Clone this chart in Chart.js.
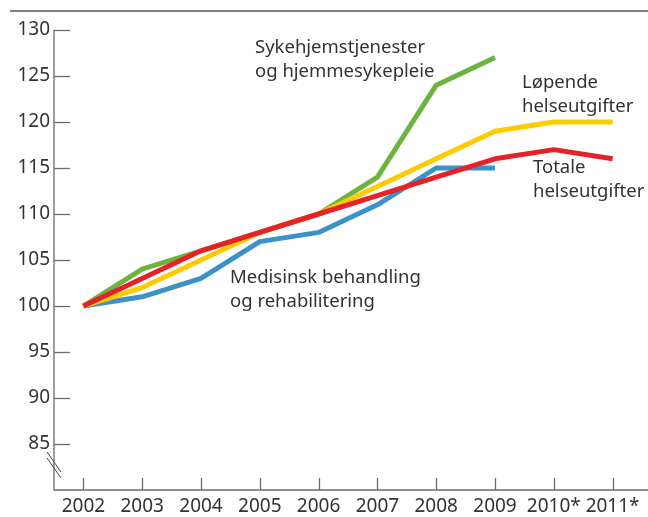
<!DOCTYPE html>
<html lang="no">
<head>
  <meta charset="UTF-8">
  <title>Helseutgifter indeks</title>
  <script src="https://cdn.jsdelivr.net/npm/chart.js"></script>
  <style>
    html, body { margin: 0; padding: 0; background: #fff; }
    #wrap { width: 648px; height: 517px; position: relative; }
  </style>
</head>
<body>
  <div id="wrap"><canvas id="myChart" width="648" height="517"></canvas></div>

  <script>
    // data, 2002 = 100
    const years = ['2002', '2003', '2004', '2005', '2006', '2007', '2008', '2009', '2010*', '2011*'];
    const sykehjem = [100, 104, 106, 108, 110, 114, 124, 127, null, null];
    const medisinsk = [100, 101, 103, 107, 108, 111, 115, 115, null, null];
    const lopende = [100, 102, 105, 108, 110, 113, 116, 119, 120, 120];
    const totale = [100, 103, 106, 108, 110, 112, 114, 116, 117, 116];

    // labels placed next to the lines
    const notes = [
      { text: ['Sykehjemstjenester', 'og hjemmesykepleie'], x: 255, y: 48 },
      { text: ['Løpende', 'helseutgifter'], x: 522, y: 83 },
      { text: ['Totale', 'helseutgifter'], x: 533, y: 168 },
      { text: ['Medisinsk behandling', 'og rehabilitering'], x: 230, y: 278 }
    ];

    const font = "'Noto Sans', 'Open Sans', sans-serif";
    const axisColor = '#6b6b6b';

    // inward ticks, axis lines, break mark and notes
    const decor = {
      id: 'decor',
      afterDraw(chart) {
        const c = chart.ctx;
        const xs = chart.scales.x, ys = chart.scales.y;
        const area = chart.chartArea;
        c.save();
        // top rule
        c.strokeStyle = '#555';
        c.lineWidth = 1.5;
        c.beginPath(); c.moveTo(10, 11); c.lineTo(648, 11); c.stroke();

        c.strokeStyle = axisColor;
        c.lineWidth = 1.3;
        c.beginPath();
        c.moveTo(area.left, ys.getPixelForValue(130));
        c.lineTo(area.left, area.bottom);
        c.lineTo(648, area.bottom);
        c.stroke();

        // y ticks pointing right
        for (let v = 85; v <= 130; v += 5) {
          const y = Math.round(ys.getPixelForValue(v)) + 0.5;
          c.beginPath(); c.moveTo(area.left, y); c.lineTo(area.left + 16, y); c.stroke();
        }
        // x ticks pointing up
        years.forEach((yr, i) => {
          const x = Math.round(xs.getPixelForValue(i)) + 0.5;
          c.beginPath(); c.moveTo(x, area.bottom); c.lineTo(x, area.bottom - 12); c.stroke();
        });

        // axis break
        const by = ys.getPixelForValue(82.5);
        c.strokeStyle = '#444';
        c.lineWidth = 1;
        [-3, 3].forEach(d => {
          c.beginPath();
          c.moveTo(area.left - 7, by - 12 + d);
          c.lineTo(area.left + 7, by + 8 + d);
          c.stroke();
        });

        // notes
        c.fillStyle = '#333';
        c.font = '18.5px ' + font;
        c.textBaseline = 'middle';
        notes.forEach(n => {
          n.text.forEach((t, k) => c.fillText(t, n.x, n.y + k * 24));
        });
        c.restore();
      }
    };

    const ctx = document.getElementById('myChart').getContext('2d');
    const line = (data, color) => ({
      data: data,
      borderColor: color,
      borderWidth: 5,
      pointRadius: 0,
      fill: false,
      tension: 0,
      borderJoinStyle: 'round'
    });

    new Chart(ctx, {
      type: 'line',
      data: {
        labels: years,
        datasets: [
          line(totale, '#e52229'),
          line(lopende, '#fecb00'),
          line(sykehjem, '#6cb33f'),
          line(medisinsk, '#3a92c8')
        ]
      },
      options: {
        responsive: false,
        animation: false,
        layout: { padding: { top: 30, right: 6, left: 0, bottom: 0 } },
        plugins: { legend: { display: false }, tooltip: { enabled: false } },
        scales: {
          x: {
            offset: true,
            grid: { display: false, drawTicks: false },
            border: { display: false },
            ticks: {
              color: '#333',
              font: { family: font, size: 19 },
              autoSkip: false,
              maxRotation: 0,
              padding: 5
            },
            afterFit: s => { s.height = 27; }
          },
          y: {
            min: 80,
            max: 130,
            grid: { display: false, drawTicks: false },
            border: { display: false },
            ticks: {
              stepSize: 5,
              color: '#333',
              font: { family: font, size: 19 },
              padding: 4,
              callback: v => (v === 80 ? '' : v)
            },
            afterFit: s => { s.width = 54; }
          }
        }
      },
      plugins: [decor]
    });
  </script>
</body>
</html>
